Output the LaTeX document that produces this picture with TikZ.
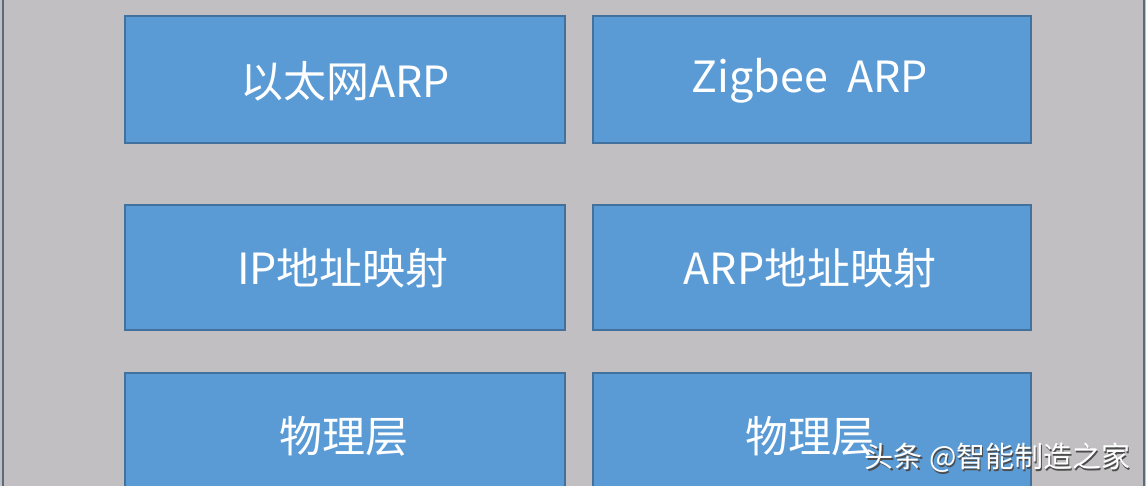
\documentclass[tikz,border=0pt]{standalone}
\usepackage{fontspec}
\setmainfont{Noto Sans CJK SC}
\newfontfamily\cjk{Noto Sans CJK SC}
\definecolor{bg}{HTML}{C1BFC1}
\definecolor{boxfill}{HTML}{5B9BD5}
\definecolor{boxline}{HTML}{41719C}
\definecolor{frameline}{HTML}{5A6C7C}
\begin{document}
\begin{tikzpicture}[x=1pt,y=-1pt,
  blk/.style={draw=boxline, line width=1.2pt, fill=boxfill},
  lbl/.style={text=white, font=\cjk\fontsize{43}{50}\selectfont, anchor=center}]
\fill[bg] (0,0) rectangle (1146,486);
\useasboundingbox (0,0) rectangle (1146,486);
\draw[frameline, line width=2pt] (3,0) -- (3,486);
\draw[frameline, line width=2pt] (1144,0) -- (1144,486);
% boxes
\draw[blk] (125,16) rectangle (565,143);
\draw[blk] (593,16) rectangle (1031,143);
\draw[blk] (125,205) rectangle (565,330);
\draw[blk] (593,205) rectangle (1031,330);
\draw[blk] (125,373) rectangle (565,500);
\draw[blk] (593,373) rectangle (1031,500);
\node[lbl] (a1) at (345,81) {以太网ARP};
\node[lbl] (b1) at (810,81) {Zigbee\ \ ARP};
\node[lbl] (a2) at (343,268) {IP地址映射};
\node[lbl] (b2) at (810,268) {ARP地址映射};
\node[lbl] (a3) at (344,436) {物理层};
\node[lbl] (b3) at (810,436) {物理层};
% watermark
\node[text=black!70, font=\cjk\fontsize{29}{34}\selectfont, anchor=west] (wms) at (862.5,459.5) {头条 @智能制造之家};
\node[text=white, font=\cjk\fontsize{29}{34}\selectfont, anchor=west] (wm) at (861,458) {头条 @智能制造之家};
\end{tikzpicture}
\end{document}
